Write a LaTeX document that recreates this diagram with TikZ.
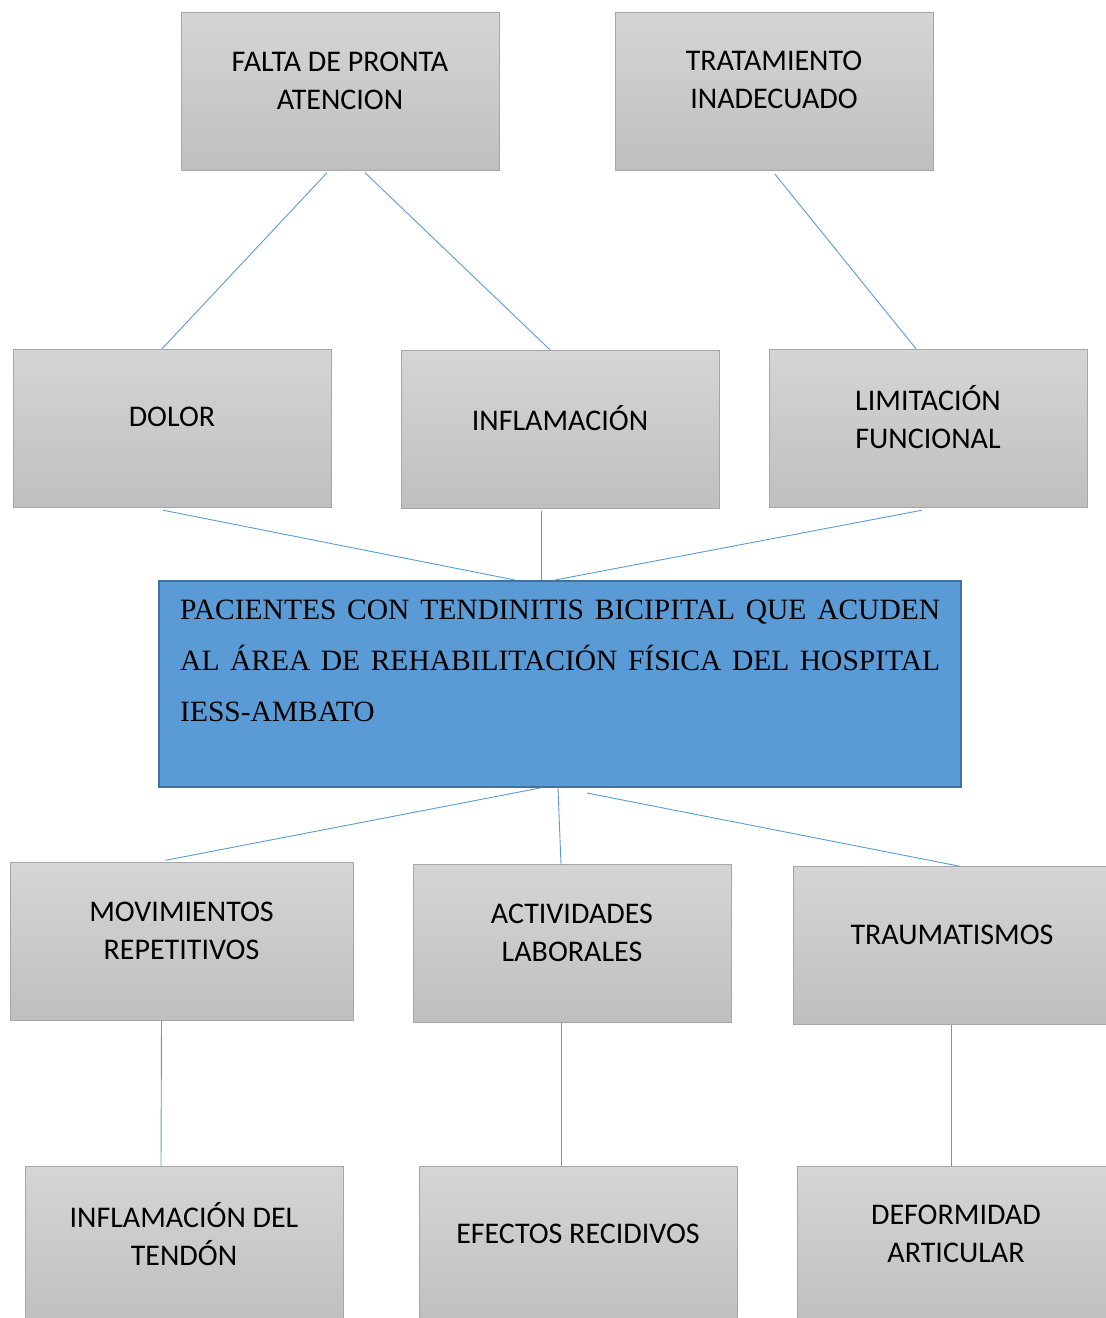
\documentclass[tikz,border=0pt]{standalone}
\usepackage{fontspec}
\setmainfont{Liberation Serif}
\newfontfamily\cajafont{Carlito}
\definecolor{grisclaro}{HTML}{D5D5D5}
\definecolor{grisoscuro}{HTML}{BFBFBF}
\definecolor{bordegris}{HTML}{A6A6A6}
\definecolor{azul}{HTML}{5B9BD5}
\definecolor{bordeazul}{HTML}{41719C}

\begin{document}
\begin{tikzpicture}[x=1pt, y=-1pt,
  caja/.style={draw=bordegris, top color=grisclaro, bottom color=grisoscuro,
    minimum width=318pt, minimum height=158pt, inner sep=0pt},
  texto/.style={font=\cajafont\fontsize{30}{38}\selectfont, align=center, yshift=11pt},
  enlace/.style={azul, line width=0.9pt}]
\path[use as bounding box, clip] (0,0) rectangle (1106,1318);
% Causas superiores
\node[caja, label={[texto]center:FALTA DE PRONTA\\ATENCION}] (falta) at (340,91.5) {};
\node[caja, label={[texto]center:TRATAMIENTO\\INADECUADO}] (tratamiento) at (774,91) {};
% Segundo nivel
\node[caja, label={[texto]center:DOLOR}] (dolor) at (172,428) {};
\node[caja, label={[texto]center:INFLAMACIÓN}] (inflamacion) at (560,429) {};
\node[caja, label={[texto]center:LIMITACIÓN\\FUNCIONAL}] (limitacion) at (928,428) {};
% Problema central
\node[draw=bordeazul, line width=2pt, fill=azul, minimum width=802pt, minimum height=206pt,
  label={[anchor=north west, xshift=22pt, yshift=-20pt, inner sep=0pt, text width=760pt,
    align=justify, font=\fontsize{29.5}{51}\selectfont]north west:PACIENTES CON TENDINITIS BICIPITAL QUE ACUDEN\linebreak AL ÁREA DE REHABILITACIÓN FÍSICA DEL HOSPITAL\linebreak IESS-AMBATO}]
  (pacientes) at (560,684) {};
% Efectos
\node[caja, minimum width=343pt, label={[texto]center:MOVIMIENTOS\\REPETITIVOS}] (movimientos) at (181.5,941.5) {};
\node[caja, label={[texto]center:ACTIVIDADES\\LABORALES}] (actividades) at (572,943.5) {};
\node[caja, label={[texto]center:TRAUMATISMOS}] (traumatismos) at (952,945.5) {};
% Ultimo nivel
\node[caja, label={[texto]center:INFLAMACIÓN DEL\\TENDÓN}] (tendon) at (184,1245) {};
\node[caja, label={[texto]center:EFECTOS RECIDIVOS}] (recidivos) at (578,1245) {};
\node[caja, label={[texto]center:DEFORMIDAD\\ARTICULAR}] (deformidad) at (956,1245) {};
% Enlaces
\draw[enlace] ([xshift=-13pt,yshift=-2pt]falta.south) -- ([xshift=-10pt]dolor.north);
\draw[enlace] ([xshift=25pt,yshift=-2pt]falta.south) -- ([xshift=-10pt]inflamacion.north);
\draw[enlace] ([xshift=1pt,yshift=-4pt]tratamiento.south) -- ([xshift=-12pt]limitacion.north);
\draw[enlace] ([xshift=-9pt,yshift=-3pt]dolor.south) -- ([xshift=-45pt]pacientes.north);
\draw[enlace] ([xshift=-19pt,yshift=-3pt]inflamacion.south) -- ([xshift=-19pt]pacientes.north);
\draw[enlace] ([xshift=-6pt,yshift=-3pt]limitacion.south) -- ([xshift=-5pt]pacientes.north);
\draw[enlace] ([xshift=-20pt]pacientes.south) -- ([xshift=-16pt,yshift=2pt]movimientos.north);
\draw[enlace] ([xshift=-2pt]pacientes.south) -- ([xshift=-11pt]actividades.north);
\draw[enlace] ([xshift=27pt,yshift=-5pt]pacientes.south) -- ([xshift=8pt]traumatismos.north);
\draw[enlace] ([xshift=-20pt]movimientos.south) -- ([xshift=-23pt]tendon.north);
\draw[enlace] ([xshift=-11pt]actividades.south) -- ([xshift=-17pt]recidivos.north);
\draw[enlace] ([xshift=-1pt]traumatismos.south) -- ([xshift=-5pt]deformidad.north);
\end{tikzpicture}
\end{document}
